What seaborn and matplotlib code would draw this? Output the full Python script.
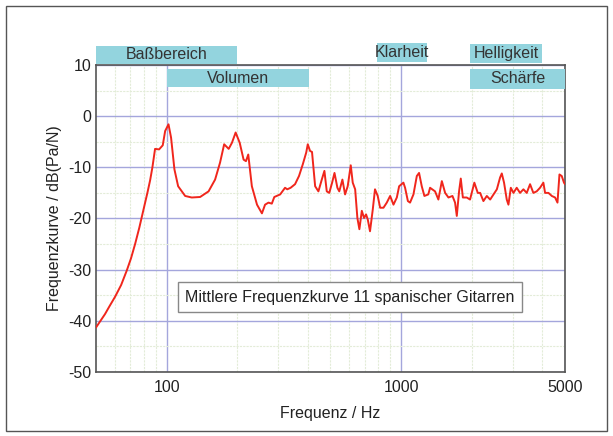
import matplotlib
matplotlib.use("Agg")
import matplotlib.pyplot as plt
import matplotlib.ticker as mticker
import matplotlib.transforms as mtrans
from matplotlib.patches import Rectangle
import seaborn as sns
import pandas as pd

# ---- data ----
freq_hz = [50, 54.6, 57, 60.3, 64, 67.6, 70.5, 73.4, 76.5, 79.6, 83, 85.1, 87, 89.3, 92.9, 96.3,
           98.6, 101.9, 104.5,
           108, 112, 120, 128, 139, 151, 161, 169, 176, 184, 190, 197, 205, 213, 218, 223,
           231, 243, 255, 263, 272, 281, 288, 305, 320, 327, 338, 353, 367, 381, 394, 400,
           409, 417, 430, 444, 459, 471, 482, 494, 508, 520, 535, 545, 562, 577, 592, 610,
           622, 637, 651, 664, 680, 695, 709, 721, 737, 757, 774, 795, 814, 841, 869, 898,
           928, 959, 981, 1023, 1040, 1069, 1092, 1129, 1167, 1193, 1225, 1257, 1306, 1329,
           1396, 1442, 1492, 1541, 1592, 1656, 1699, 1728, 1767, 1797, 1834, 1905, 1968,
           2053, 2123, 2173, 2244, 2320, 2398, 2478, 2561, 2643, 2688, 2748, 2822, 2869,
           2937, 3014, 3112, 3215, 3324, 3434, 3548, 3664, 3786, 3913, 4043, 4112, 4250,
           4393, 4536, 4644, 4735, 4842, 4950, 5000]
level_db = [-41.3, -38.7, -37.2, -35.3, -33.0, -30.2, -27.8, -25.0, -21.8, -18.4, -14.8, -12.5,
            -10.0, -6.4, -6.5, -5.7, -2.9, -1.6, -4.2,
            -10.4, -13.7, -15.6, -15.9, -15.8, -14.7, -12.4, -9.1, -5.5, -6.4, -5.2, -3.2, -5.2,
            -8.5, -8.8, -7.5, -13.7, -17.3, -19.0, -17.3, -16.9, -17.1, -15.8, -15.3, -14.0,
            -14.3, -14.0, -13.3, -11.7, -9.4, -7.1, -5.5, -6.8, -7.0, -13.7, -14.7, -12.4,
            -10.7, -14.7, -15.0, -13.0, -11.1, -14.0, -14.7, -12.4, -15.3, -13.7, -9.6, -13.0,
            -14.3, -19.9, -22.1, -18.5, -19.9, -19.2, -20.2, -22.5, -18.3, -14.3, -15.6, -17.9,
            -17.9, -16.9, -15.6, -17.3, -15.9, -13.7, -13.0, -14.0, -16.6, -16.9, -15.3, -11.7,
            -11.1, -13.7, -15.6, -15.3, -14.0, -14.7, -16.3, -12.7, -15.0, -15.9, -15.6, -16.9,
            -19.5, -14.7, -12.2, -15.9, -15.9, -16.3, -13.0, -15.0, -15.0, -16.6, -15.6, -16.3,
            -15.3, -14.3, -12.0, -11.2, -13.0, -16.3, -17.3, -14.0, -15.0, -14.0, -15.0, -14.3,
            -15.0, -13.3, -15.0, -14.7, -14.0, -13.0, -15.0, -15.0, -15.6, -15.9, -16.9, -11.4,
            -11.7, -13.0, -13.3]

band_labels = ["Baßbereich", "Volumen", "Klarheit", "Helligkeit", "Schärfe"]
band_start_hz = [50, 100, 790, 1970, 1970]
band_end_hz = [200, 405, 1290, 4000, 5000]

x_tick_values = [100, 1000, 5000]
x_tick_labels = ["100", "1000", "5000"]
y_tick_values = [-50, -40, -30, -20, -10, 0, 10]
note_text = "Mittlere Frequenzkurve 11 spanischer Gitarren"

df = pd.DataFrame({"Frequenz": freq_hz, "Pegel": level_db})

sns.set_style("white")
plt.rcParams["font.family"] = ["Liberation Sans", "DejaVu Sans"]
plt.rcParams["axes.unicode_minus"] = False

fig = plt.figure(figsize=(6.13, 4.36), dpi=100)
ax = fig.add_axes([0.1566, 0.1468, 0.7651, 0.7042])

sns.lineplot(data=df, x="Frequenz", y="Pegel", ax=ax, color="#f0261c", linewidth=1.4,
             zorder=5, estimator=None, sort=False)

ax.set_xscale("log")
ax.set_xlim(50, 5000)
ax.set_ylim(-50, 10)

ax.xaxis.set_major_locator(mticker.FixedLocator(x_tick_values))
ax.xaxis.set_major_formatter(mticker.FixedFormatter(x_tick_labels))
ax.xaxis.set_minor_locator(mticker.FixedLocator(
    [60, 70, 80, 90, 200, 300, 400, 500, 600, 700, 800, 900, 2000, 3000, 4000]))
ax.xaxis.set_minor_formatter(mticker.NullFormatter())
ax.yaxis.set_major_locator(mticker.FixedLocator(y_tick_values))
ax.yaxis.set_minor_locator(mticker.MultipleLocator(5))

ax.grid(True, which="major", color="#a4a6dc", linewidth=1.0, zorder=1)
ax.grid(True, which="minor", color="#e3ecd8", linewidth=0.8, linestyle=(0, (2, 1)), zorder=1)
ax.set_axisbelow(True)

for s in ax.spines.values():
    s.set_color("#555555")
    s.set_linewidth(1.2)

ax.tick_params(which="both", direction="in", color="#555555", labelsize=11.5,
               labelcolor="#222222")
ax.tick_params(which="major", length=4, width=1)
ax.tick_params(which="minor", length=3, width=0.8)
ax.tick_params(axis="x", pad=6)

ax.set_xlabel("Frequenz / Hz", fontsize=11.5, color="#222222", labelpad=8)
ax.set_ylabel("Frequenzkurve / dB(Pa/N)", fontsize=11.5, color="#222222", labelpad=4)

# band boxes (x in data, y in axes fraction)
trans = mtrans.blended_transform_factory(ax.transData, ax.transAxes)
band_y = [(1.003, 1.062), (0.928, 0.987), (1.010, 1.072), (1.007, 1.068), (0.922, 0.987)]
for lab, x0, x1, (y0, y1) in zip(band_labels, band_start_hz, band_end_hz, band_y):
    r = Rectangle((x0, y0), x1 - x0, y1 - y0, transform=trans, facecolor="#93d4de",
                  edgecolor="none", clip_on=False, zorder=6)
    ax.add_patch(r)
    xc = (x0 * x1) ** 0.5
    ax.text(xc, (y0 + y1) / 2, lab, transform=trans, ha="center", va="center",
            fontsize=11.5, color="#333333", zorder=7, clip_on=False)

ax.text(0.541, 0.244, note_text, transform=ax.transAxes, ha="center", va="center",
        fontsize=11.5, color="#222222", zorder=7,
        bbox=dict(boxstyle="square,pad=0.45", facecolor="white", edgecolor="#888888",
                  linewidth=1.0))

# outer figure frame
fig.patches.append(Rectangle((0.009, 0.012), 0.981, 0.975, transform=fig.transFigure,
                             fill=False, edgecolor="#555555", linewidth=1.0))

fig.savefig("out.png", dpi=100)
